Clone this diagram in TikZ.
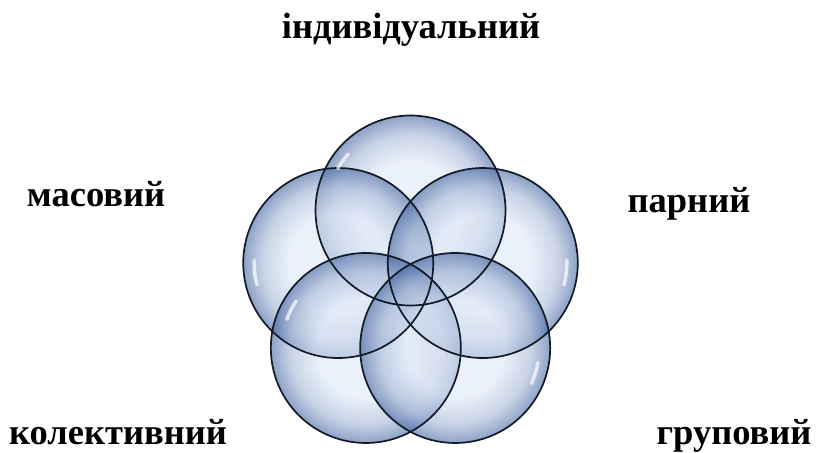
\documentclass[tikz,border=0pt]{standalone}
\usepackage{fontspec}
\setmainfont{Liberation Serif}
\usetikzlibrary{calc}

\definecolor{bubin}{RGB}{222,231,246}
\definecolor{bubout}{RGB}{66,100,160}
\definecolor{rimcol}{RGB}{18,26,40}
\pgfdeclareradialshading{bubble}{\pgfpoint{0bp}{0bp}}{%
  color(0bp)=(bubin); color(13bp)=(bubin);
  color(20bp)=(bubin!62!bubout); color(25bp)=(bubout); color(50bp)=(bubout)}

\begin{document}
\begin{tikzpicture}[x=1pt,y=1pt,
  bub/.style={circle,minimum size=190pt,inner sep=0pt,shading=bubble,
    fill opacity=0.6},
  rim/.style={draw=rimcol,line width=1.7pt},
  shine/.style={white,line width=3.5pt,line cap=round,opacity=0.7},
  lbl/.style={anchor=base,font=\bfseries\fontsize{36.5}{40}\selectfont}]
  \useasboundingbox (0,0) rectangle (818,452);
  \coordinate (mid) at (410.5,165.5);
  % the five bubbles
  \node[bub] (top) at ($(mid)+(90:76)$) {};
  \node[bub] (ul) at ($(mid)+(162:76)$) {};
  \node[bub] (ur) at ($(mid)+(18:76)$) {};
  \node[bub] (ll) at ($(mid)+(234:76)$) {};
  \node[bub] (lr) at ($(mid)+(306:76)$) {};
  % outlines on top of all fills
  \foreach \b in {top,ul,ur,ll,lr}
    \draw[rim] (\b) circle[radius=95];
  % glossy streaks
  \draw[shine] ($(top)+(150:84)$) arc[start angle=150,end angle=138,radius=84];
  \draw[shine] ($(ul)+(195:84)$) arc[start angle=195,end angle=178,radius=84];
  \draw[shine] ($(ur)+(-15:84)$) arc[start angle=-15,end angle=2,radius=84];
  \draw[shine] ($(ll)+(160:84)$) arc[start angle=160,end angle=146,radius=84];
  \draw[shine] ($(lr)+(-25:84)$) arc[start angle=-25,end angle=-10,radius=84];
  % labels
  \node[lbl] (individ) at (411,413) {індивідуальний};
  \node[lbl] (masov) at (96,245) {масовий};
  \node[lbl] (parn) at (689,239) {парний};
  \node[lbl] (kolekt) at (118,8) {колективний};
  \node[lbl] (grup) at (734,8) {груповий};
\end{tikzpicture}
\end{document}
